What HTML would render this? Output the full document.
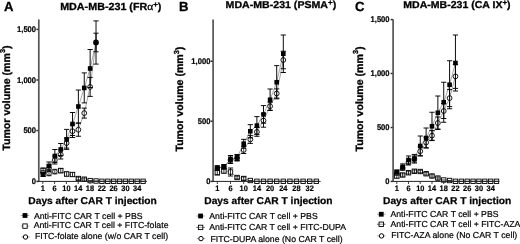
<!DOCTYPE html>
<html lang="en"><head><meta charset="utf-8"><title>Tumor volume after CAR T injection</title>
<style>html,body{margin:0;padding:0;background:#fff;}body{width:520px;height:244px;overflow:hidden;}svg{display:block;}text{white-space:pre;}</style>
</head><body>
<svg width="520" height="244" viewBox="0 0 520 244" font-family='"Liberation Sans", Arial, Helvetica, sans-serif' fill="#000" text-rendering="geometricPrecision">
<rect width="520" height="244" fill="#fff"/>
<line x1="36.40" y1="29.40" x2="38.80" y2="29.40" stroke="#2a2a2a" stroke-width="1.5"/>
<text transform="translate(36.10,32.25) scale(0.93,1)" font-size="8.2" font-weight="bold" stroke="#000" stroke-width="0.2" text-anchor="end">1,500</text>
<line x1="36.40" y1="80.00" x2="38.80" y2="80.00" stroke="#2a2a2a" stroke-width="1.5"/>
<text transform="translate(36.10,82.85) scale(0.93,1)" font-size="8.2" font-weight="bold" stroke="#000" stroke-width="0.2" text-anchor="end">1,000</text>
<line x1="36.40" y1="130.60" x2="38.80" y2="130.60" stroke="#2a2a2a" stroke-width="1.5"/>
<text transform="translate(36.10,133.45) scale(0.93,1)" font-size="8.2" font-weight="bold" stroke="#000" stroke-width="0.2" text-anchor="end">500</text>
<line x1="36.40" y1="181.40" x2="38.80" y2="181.40" stroke="#2a2a2a" stroke-width="1.5"/>
<text transform="translate(36.10,184.25) scale(0.93,1)" font-size="8.2" font-weight="bold" stroke="#000" stroke-width="0.2" text-anchor="end">0</text>
<line x1="42.80" y1="181.40" x2="42.80" y2="184.00" stroke="#444" stroke-width="1"/>
<text transform="translate(42.80,191.2) scale(0.94,1)" font-size="7.9" font-weight="bold" stroke="#000" stroke-width="0.2" text-anchor="middle">1</text>
<line x1="54.60" y1="181.40" x2="54.60" y2="184.00" stroke="#444" stroke-width="1"/>
<text transform="translate(54.60,191.2) scale(0.94,1)" font-size="7.9" font-weight="bold" stroke="#000" stroke-width="0.2" text-anchor="middle">6</text>
<line x1="66.40" y1="181.40" x2="66.40" y2="184.00" stroke="#444" stroke-width="1"/>
<text transform="translate(66.40,191.2) scale(0.94,1)" font-size="7.9" font-weight="bold" stroke="#000" stroke-width="0.2" text-anchor="middle">10</text>
<line x1="78.20" y1="181.40" x2="78.20" y2="184.00" stroke="#444" stroke-width="1"/>
<text transform="translate(78.20,191.2) scale(0.94,1)" font-size="7.9" font-weight="bold" stroke="#000" stroke-width="0.2" text-anchor="middle">14</text>
<line x1="90.00" y1="181.40" x2="90.00" y2="184.00" stroke="#444" stroke-width="1"/>
<text transform="translate(90.00,191.2) scale(0.94,1)" font-size="7.9" font-weight="bold" stroke="#000" stroke-width="0.2" text-anchor="middle">18</text>
<line x1="101.80" y1="181.40" x2="101.80" y2="184.00" stroke="#444" stroke-width="1"/>
<text transform="translate(101.80,191.2) scale(0.94,1)" font-size="7.9" font-weight="bold" stroke="#000" stroke-width="0.2" text-anchor="middle">22</text>
<line x1="113.60" y1="181.40" x2="113.60" y2="184.00" stroke="#444" stroke-width="1"/>
<text transform="translate(113.60,191.2) scale(0.94,1)" font-size="7.9" font-weight="bold" stroke="#000" stroke-width="0.2" text-anchor="middle">26</text>
<line x1="125.40" y1="181.40" x2="125.40" y2="184.00" stroke="#444" stroke-width="1"/>
<text transform="translate(125.40,191.2) scale(0.94,1)" font-size="7.9" font-weight="bold" stroke="#000" stroke-width="0.2" text-anchor="middle">30</text>
<line x1="137.20" y1="181.40" x2="137.20" y2="184.00" stroke="#444" stroke-width="1"/>
<text transform="translate(137.20,191.2) scale(0.94,1)" font-size="7.9" font-weight="bold" stroke="#000" stroke-width="0.2" text-anchor="middle">34</text>
<text x="3.9" y="11.1" font-size="13.1" font-weight="bold" stroke="#000" stroke-width="0.3" text-anchor="start">A</text>
<text x="60.2" y="9.6" font-size="10.3" font-weight="bold" stroke="#000" stroke-width="0.3" textLength="101.2" lengthAdjust="spacingAndGlyphs">MDA-MB-231 (FR<tspan font-family='"Liberation Serif","DejaVu Serif",serif' font-weight="normal" font-size="11">α</tspan><tspan font-size="7.5" dy="-2.8" stroke-width="0.4">+</tspan><tspan dy="2.8">)</tspan></text>
<text transform="translate(9.8,98.15) rotate(-90)" font-size="10.6" font-weight="bold" stroke="#000" stroke-width="0.3" text-anchor="middle" textLength="105.3" lengthAdjust="spacingAndGlyphs">Tumor volume (mm<tspan font-size="7.3" dy="-4.5">3</tspan><tspan dy="4.5">)</tspan></text>
<text x="28.3" y="203.9" font-size="10.0" font-weight="bold" stroke="#000" stroke-width="0.25" text-anchor="start" textLength="128.5" lengthAdjust="spacingAndGlyphs">Days after CAR T injection</text>
<polyline points="43.10,170.50 48.98,173.50 54.86,171.60 60.74,170.60 66.62,174.00 72.50,174.50 78.38,178.50 84.26,179.20 90.14,180.60 96.02,181.00 101.90,181.30 107.78,181.30 113.66,181.30 119.54,181.30 125.42,181.30 131.30,181.30 137.18,181.30 143.06,181.30" fill="none" stroke="#000" stroke-width="0.35"/>
<line x1="43.10" y1="168.00" x2="43.10" y2="173.00" stroke="#000" stroke-width="0.95"/>
<line x1="40.50" y1="168.00" x2="45.70" y2="168.00" stroke="#000" stroke-width="0.95"/>
<line x1="40.50" y1="173.00" x2="45.70" y2="173.00" stroke="#000" stroke-width="0.95"/>
<line x1="48.98" y1="171.30" x2="48.98" y2="175.70" stroke="#000" stroke-width="0.95"/>
<line x1="46.38" y1="171.30" x2="51.58" y2="171.30" stroke="#000" stroke-width="0.95"/>
<line x1="46.38" y1="175.70" x2="51.58" y2="175.70" stroke="#000" stroke-width="0.95"/>
<line x1="54.86" y1="169.40" x2="54.86" y2="173.80" stroke="#000" stroke-width="0.95"/>
<line x1="52.26" y1="169.40" x2="57.46" y2="169.40" stroke="#000" stroke-width="0.95"/>
<line x1="52.26" y1="173.80" x2="57.46" y2="173.80" stroke="#000" stroke-width="0.95"/>
<line x1="60.74" y1="168.40" x2="60.74" y2="172.80" stroke="#000" stroke-width="0.95"/>
<line x1="58.14" y1="168.40" x2="63.34" y2="168.40" stroke="#000" stroke-width="0.95"/>
<line x1="58.14" y1="172.80" x2="63.34" y2="172.80" stroke="#000" stroke-width="0.95"/>
<line x1="66.62" y1="172.00" x2="66.62" y2="176.00" stroke="#000" stroke-width="0.95"/>
<line x1="64.02" y1="172.00" x2="69.22" y2="172.00" stroke="#000" stroke-width="0.95"/>
<line x1="64.02" y1="176.00" x2="69.22" y2="176.00" stroke="#000" stroke-width="0.95"/>
<line x1="72.50" y1="172.50" x2="72.50" y2="176.50" stroke="#000" stroke-width="0.95"/>
<line x1="69.90" y1="172.50" x2="75.10" y2="172.50" stroke="#000" stroke-width="0.95"/>
<line x1="69.90" y1="176.50" x2="75.10" y2="176.50" stroke="#000" stroke-width="0.95"/>
<line x1="78.38" y1="177.30" x2="78.38" y2="179.70" stroke="#000" stroke-width="0.95"/>
<line x1="75.78" y1="177.30" x2="80.98" y2="177.30" stroke="#000" stroke-width="0.95"/>
<line x1="75.78" y1="179.70" x2="80.98" y2="179.70" stroke="#000" stroke-width="0.95"/>
<line x1="84.26" y1="178.20" x2="84.26" y2="180.20" stroke="#000" stroke-width="0.95"/>
<line x1="81.66" y1="178.20" x2="86.86" y2="178.20" stroke="#000" stroke-width="0.95"/>
<line x1="81.66" y1="180.20" x2="86.86" y2="180.20" stroke="#000" stroke-width="0.95"/>
<rect x="40.90" y="168.30" width="4.4" height="4.4" fill="#fff" stroke="#000" stroke-width="0.9"/>
<circle cx="48.98" cy="173.50" r="2.3" fill="#fff" stroke="#000" stroke-width="0.9"/>
<circle cx="54.86" cy="171.60" r="2.3" fill="#fff" stroke="#000" stroke-width="0.9"/>
<rect x="58.54" y="168.40" width="4.4" height="4.4" fill="#fff" stroke="#000" stroke-width="0.9"/>
<rect x="64.42" y="171.80" width="4.4" height="4.4" fill="#fff" stroke="#000" stroke-width="0.9"/>
<rect x="70.30" y="172.30" width="4.4" height="4.4" fill="#fff" stroke="#000" stroke-width="0.9"/>
<rect x="76.18" y="176.30" width="4.4" height="4.4" fill="#fff" stroke="#000" stroke-width="0.9"/>
<rect x="82.06" y="177.00" width="4.4" height="4.4" fill="#fff" stroke="#000" stroke-width="0.9"/>
<rect x="87.94" y="178.40" width="4.4" height="4.4" fill="#fff" stroke="#000" stroke-width="0.9"/>
<rect x="93.82" y="178.80" width="4.4" height="4.4" fill="#fff" stroke="#000" stroke-width="0.9"/>
<rect x="99.70" y="179.10" width="4.4" height="4.4" fill="#fff" stroke="#000" stroke-width="0.9"/>
<rect x="105.58" y="179.10" width="4.4" height="4.4" fill="#fff" stroke="#000" stroke-width="0.9"/>
<rect x="111.46" y="179.10" width="4.4" height="4.4" fill="#fff" stroke="#000" stroke-width="0.9"/>
<rect x="117.34" y="179.10" width="4.4" height="4.4" fill="#fff" stroke="#000" stroke-width="0.9"/>
<rect x="123.22" y="179.10" width="4.4" height="4.4" fill="#fff" stroke="#000" stroke-width="0.9"/>
<rect x="129.10" y="179.10" width="4.4" height="4.4" fill="#fff" stroke="#000" stroke-width="0.9"/>
<rect x="134.98" y="179.10" width="4.4" height="4.4" fill="#fff" stroke="#000" stroke-width="0.9"/>
<rect x="140.86" y="179.10" width="4.4" height="4.4" fill="#fff" stroke="#000" stroke-width="0.9"/>
<line x1="43.10" y1="168.30" x2="43.10" y2="172.70" stroke="#000" stroke-width="0.8"/>
<line x1="48.98" y1="171.30" x2="48.98" y2="175.70" stroke="#000" stroke-width="0.8"/>
<line x1="54.86" y1="169.40" x2="54.86" y2="173.80" stroke="#000" stroke-width="0.8"/>
<line x1="60.74" y1="168.40" x2="60.74" y2="172.80" stroke="#000" stroke-width="0.8"/>
<line x1="66.62" y1="171.80" x2="66.62" y2="176.20" stroke="#000" stroke-width="0.8"/>
<line x1="72.50" y1="172.30" x2="72.50" y2="176.70" stroke="#000" stroke-width="0.8"/>
<line x1="78.38" y1="176.30" x2="78.38" y2="180.70" stroke="#000" stroke-width="0.8"/>
<line x1="76.18" y1="177.30" x2="80.58" y2="177.30" stroke="#000" stroke-width="0.6"/>
<line x1="76.18" y1="179.70" x2="80.58" y2="179.70" stroke="#000" stroke-width="0.6"/>
<line x1="84.26" y1="177.00" x2="84.26" y2="181.40" stroke="#000" stroke-width="0.8"/>
<line x1="82.06" y1="178.20" x2="86.46" y2="178.20" stroke="#000" stroke-width="0.6"/>
<line x1="82.06" y1="180.20" x2="86.46" y2="180.20" stroke="#000" stroke-width="0.6"/>
<line x1="88.04" y1="180.60" x2="92.24" y2="180.60" stroke="#000" stroke-width="0.8"/>
<line x1="93.92" y1="181.00" x2="98.12" y2="181.00" stroke="#000" stroke-width="0.8"/>
<line x1="99.80" y1="181.30" x2="104.00" y2="181.30" stroke="#000" stroke-width="0.8"/>
<line x1="105.68" y1="181.30" x2="109.88" y2="181.30" stroke="#000" stroke-width="0.8"/>
<line x1="111.56" y1="181.30" x2="115.76" y2="181.30" stroke="#000" stroke-width="0.8"/>
<line x1="117.44" y1="181.30" x2="121.64" y2="181.30" stroke="#000" stroke-width="0.8"/>
<line x1="123.32" y1="181.30" x2="127.52" y2="181.30" stroke="#000" stroke-width="0.8"/>
<line x1="129.20" y1="181.30" x2="133.40" y2="181.30" stroke="#000" stroke-width="0.8"/>
<line x1="135.08" y1="181.30" x2="139.28" y2="181.30" stroke="#000" stroke-width="0.8"/>
<line x1="140.96" y1="181.30" x2="145.16" y2="181.30" stroke="#000" stroke-width="0.8"/>
<line x1="38.80" y1="19.40" x2="38.80" y2="181.90" stroke="#555" stroke-width="1.7"/>
<line x1="38.10" y1="181.40" x2="146.90" y2="181.40" stroke="#222" stroke-width="1.0"/>
<polyline points="43.10,173.00 48.98,168.00 54.86,160.00 60.74,154.50 66.62,143.10 72.50,131.20 78.38,129.75 84.26,113.10 90.14,86.90 96.02,42.50" fill="none" stroke="#000" stroke-width="0.35"/>
<polyline points="43.10,174.50 48.98,166.00 54.86,156.00 60.74,149.50 66.62,139.40 72.50,124.00 78.38,106.50 84.26,87.90 90.14,68.50 96.02,42.50" fill="none" stroke="#000" stroke-width="0.35"/>
<line x1="43.10" y1="171.00" x2="43.10" y2="175.00" stroke="#000" stroke-width="0.95"/>
<line x1="40.50" y1="171.00" x2="45.70" y2="171.00" stroke="#000" stroke-width="0.95"/>
<line x1="40.50" y1="175.00" x2="45.70" y2="175.00" stroke="#000" stroke-width="0.95"/>
<line x1="48.98" y1="165.00" x2="48.98" y2="171.00" stroke="#000" stroke-width="0.95"/>
<line x1="46.38" y1="165.00" x2="51.58" y2="165.00" stroke="#000" stroke-width="0.95"/>
<line x1="46.38" y1="171.00" x2="51.58" y2="171.00" stroke="#000" stroke-width="0.95"/>
<line x1="54.86" y1="156.00" x2="54.86" y2="164.00" stroke="#000" stroke-width="0.95"/>
<line x1="52.26" y1="156.00" x2="57.46" y2="156.00" stroke="#000" stroke-width="0.95"/>
<line x1="52.26" y1="164.00" x2="57.46" y2="164.00" stroke="#000" stroke-width="0.95"/>
<line x1="60.74" y1="150.00" x2="60.74" y2="159.00" stroke="#000" stroke-width="0.95"/>
<line x1="58.14" y1="150.00" x2="63.34" y2="150.00" stroke="#000" stroke-width="0.95"/>
<line x1="58.14" y1="159.00" x2="63.34" y2="159.00" stroke="#000" stroke-width="0.95"/>
<line x1="66.62" y1="138.10" x2="66.62" y2="148.10" stroke="#000" stroke-width="0.95"/>
<line x1="64.02" y1="138.10" x2="69.22" y2="138.10" stroke="#000" stroke-width="0.95"/>
<line x1="64.02" y1="148.10" x2="69.22" y2="148.10" stroke="#000" stroke-width="0.95"/>
<line x1="72.50" y1="124.90" x2="72.50" y2="137.50" stroke="#000" stroke-width="0.95"/>
<line x1="69.90" y1="124.90" x2="75.10" y2="124.90" stroke="#000" stroke-width="0.95"/>
<line x1="69.90" y1="137.50" x2="75.10" y2="137.50" stroke="#000" stroke-width="0.95"/>
<line x1="78.38" y1="123.25" x2="78.38" y2="136.25" stroke="#000" stroke-width="0.95"/>
<line x1="75.78" y1="123.25" x2="80.98" y2="123.25" stroke="#000" stroke-width="0.95"/>
<line x1="75.78" y1="136.25" x2="80.98" y2="136.25" stroke="#000" stroke-width="0.95"/>
<line x1="84.26" y1="108.10" x2="84.26" y2="118.10" stroke="#000" stroke-width="0.95"/>
<line x1="81.66" y1="108.10" x2="86.86" y2="108.10" stroke="#000" stroke-width="0.95"/>
<line x1="81.66" y1="118.10" x2="86.86" y2="118.10" stroke="#000" stroke-width="0.95"/>
<line x1="90.14" y1="77.40" x2="90.14" y2="96.40" stroke="#000" stroke-width="0.95"/>
<line x1="87.54" y1="77.40" x2="92.74" y2="77.40" stroke="#000" stroke-width="0.95"/>
<line x1="87.54" y1="96.40" x2="92.74" y2="96.40" stroke="#000" stroke-width="0.95"/>
<line x1="96.02" y1="33.20" x2="96.02" y2="51.80" stroke="#000" stroke-width="0.95"/>
<line x1="93.42" y1="33.20" x2="98.62" y2="33.20" stroke="#000" stroke-width="0.95"/>
<line x1="93.42" y1="51.80" x2="98.62" y2="51.80" stroke="#000" stroke-width="0.95"/>
<circle cx="43.10" cy="173.00" r="2.4" fill="#fff" stroke="#000" stroke-width="0.9"/>
<circle cx="48.98" cy="168.00" r="2.4" fill="#fff" stroke="#000" stroke-width="0.9"/>
<circle cx="54.86" cy="160.00" r="2.4" fill="#fff" stroke="#000" stroke-width="0.9"/>
<circle cx="60.74" cy="154.50" r="2.4" fill="#fff" stroke="#000" stroke-width="0.9"/>
<circle cx="66.62" cy="143.10" r="2.4" fill="#fff" stroke="#000" stroke-width="0.9"/>
<circle cx="72.50" cy="131.20" r="2.4" fill="#fff" stroke="#000" stroke-width="0.9"/>
<circle cx="78.38" cy="129.75" r="2.4" fill="#fff" stroke="#000" stroke-width="0.9"/>
<circle cx="84.26" cy="113.10" r="2.4" fill="#fff" stroke="#000" stroke-width="0.9"/>
<circle cx="90.14" cy="86.90" r="2.4" fill="#fff" stroke="#000" stroke-width="0.9"/>
<line x1="43.10" y1="170.60" x2="43.10" y2="175.40" stroke="#000" stroke-width="0.7"/>
<line x1="48.98" y1="165.60" x2="48.98" y2="170.40" stroke="#000" stroke-width="0.7"/>
<line x1="54.86" y1="157.60" x2="54.86" y2="162.40" stroke="#000" stroke-width="0.7"/>
<line x1="60.74" y1="152.10" x2="60.74" y2="156.90" stroke="#000" stroke-width="0.7"/>
<line x1="66.62" y1="140.70" x2="66.62" y2="145.50" stroke="#000" stroke-width="0.7"/>
<line x1="72.50" y1="128.80" x2="72.50" y2="133.60" stroke="#000" stroke-width="0.7"/>
<line x1="78.38" y1="127.35" x2="78.38" y2="132.15" stroke="#000" stroke-width="0.7"/>
<line x1="84.26" y1="110.70" x2="84.26" y2="115.50" stroke="#000" stroke-width="0.7"/>
<line x1="90.14" y1="84.50" x2="90.14" y2="89.30" stroke="#000" stroke-width="0.7"/>
<line x1="43.10" y1="172.50" x2="43.10" y2="176.50" stroke="#000" stroke-width="0.95"/>
<line x1="40.50" y1="172.50" x2="45.70" y2="172.50" stroke="#000" stroke-width="0.95"/>
<line x1="40.50" y1="176.50" x2="45.70" y2="176.50" stroke="#000" stroke-width="0.95"/>
<line x1="48.98" y1="162.00" x2="48.98" y2="170.00" stroke="#000" stroke-width="0.95"/>
<line x1="46.38" y1="162.00" x2="51.58" y2="162.00" stroke="#000" stroke-width="0.95"/>
<line x1="46.38" y1="170.00" x2="51.58" y2="170.00" stroke="#000" stroke-width="0.95"/>
<line x1="54.86" y1="149.50" x2="54.86" y2="162.50" stroke="#000" stroke-width="0.95"/>
<line x1="52.26" y1="149.50" x2="57.46" y2="149.50" stroke="#000" stroke-width="0.95"/>
<line x1="52.26" y1="162.50" x2="57.46" y2="162.50" stroke="#000" stroke-width="0.95"/>
<line x1="60.74" y1="143.50" x2="60.74" y2="155.50" stroke="#000" stroke-width="0.95"/>
<line x1="58.14" y1="143.50" x2="63.34" y2="143.50" stroke="#000" stroke-width="0.95"/>
<line x1="58.14" y1="155.50" x2="63.34" y2="155.50" stroke="#000" stroke-width="0.95"/>
<line x1="66.62" y1="129.40" x2="66.62" y2="149.40" stroke="#000" stroke-width="0.95"/>
<line x1="64.02" y1="129.40" x2="69.22" y2="129.40" stroke="#000" stroke-width="0.95"/>
<line x1="64.02" y1="149.40" x2="69.22" y2="149.40" stroke="#000" stroke-width="0.95"/>
<line x1="72.50" y1="112.50" x2="72.50" y2="135.50" stroke="#000" stroke-width="0.95"/>
<line x1="69.90" y1="112.50" x2="75.10" y2="112.50" stroke="#000" stroke-width="0.95"/>
<line x1="69.90" y1="135.50" x2="75.10" y2="135.50" stroke="#000" stroke-width="0.95"/>
<line x1="78.38" y1="90.00" x2="78.38" y2="123.00" stroke="#000" stroke-width="0.95"/>
<line x1="75.78" y1="90.00" x2="80.98" y2="90.00" stroke="#000" stroke-width="0.95"/>
<line x1="75.78" y1="123.00" x2="80.98" y2="123.00" stroke="#000" stroke-width="0.95"/>
<line x1="84.26" y1="72.90" x2="84.26" y2="102.90" stroke="#000" stroke-width="0.95"/>
<line x1="81.66" y1="72.90" x2="86.86" y2="72.90" stroke="#000" stroke-width="0.95"/>
<line x1="81.66" y1="102.90" x2="86.86" y2="102.90" stroke="#000" stroke-width="0.95"/>
<line x1="90.14" y1="49.50" x2="90.14" y2="87.50" stroke="#000" stroke-width="0.95"/>
<line x1="87.54" y1="49.50" x2="92.74" y2="49.50" stroke="#000" stroke-width="0.95"/>
<line x1="87.54" y1="87.50" x2="92.74" y2="87.50" stroke="#000" stroke-width="0.95"/>
<line x1="96.02" y1="20.90" x2="96.02" y2="64.10" stroke="#000" stroke-width="0.95"/>
<line x1="93.42" y1="20.90" x2="98.62" y2="20.90" stroke="#000" stroke-width="0.95"/>
<line x1="93.42" y1="64.10" x2="98.62" y2="64.10" stroke="#000" stroke-width="0.95"/>
<rect x="40.80" y="172.20" width="4.6" height="4.6" fill="#000"/>
<rect x="46.68" y="163.70" width="4.6" height="4.6" fill="#000"/>
<rect x="52.56" y="153.70" width="4.6" height="4.6" fill="#000"/>
<rect x="58.44" y="147.20" width="4.6" height="4.6" fill="#000"/>
<rect x="64.32" y="137.10" width="4.6" height="4.6" fill="#000"/>
<rect x="70.20" y="121.70" width="4.6" height="4.6" fill="#000"/>
<rect x="76.08" y="104.20" width="4.6" height="4.6" fill="#000"/>
<rect x="81.96" y="85.60" width="4.6" height="4.6" fill="#000"/>
<rect x="87.84" y="66.20" width="4.6" height="4.6" fill="#000"/>
<circle cx="96.00" cy="42.50" r="2.9" fill="#000"/>
<line x1="20.80" y1="215.50" x2="29.20" y2="215.50" stroke="#333" stroke-width="0.45"/>
<rect x="22.60" y="213.10" width="4.8" height="4.8" fill="#000"/>
<text x="33.9" y="218.5" font-size="8.7" text-anchor="start" textLength="108.7" lengthAdjust="spacingAndGlyphs" stroke="#000" stroke-width="0.2">Anti-FITC CAR T cell + PBS</text>
<line x1="20.80" y1="226.10" x2="29.20" y2="226.10" stroke="#333" stroke-width="0.45"/>
<rect x="22.80" y="223.90" width="4.4" height="4.4" fill="#fff" stroke="#000" stroke-width="0.9"/>
<text x="33.699999999999996" y="228.2" font-size="8.7" text-anchor="start" textLength="134.8" lengthAdjust="spacingAndGlyphs" stroke="#000" stroke-width="0.2">Anti-FITC CAR T cell + FITC-folate</text>
<line x1="21.30" y1="237.00" x2="29.70" y2="237.00" stroke="#333" stroke-width="0.45"/>
<circle cx="25.50" cy="237.00" r="2.2" fill="#fff" stroke="#000" stroke-width="1.0"/>
<text x="34.9" y="239.3" font-size="8.7" text-anchor="start" textLength="133.2" lengthAdjust="spacingAndGlyphs" stroke="#000" stroke-width="0.2">FITC-folate alone (w/o CAR T cell)</text>
<line x1="210.70" y1="61.25" x2="213.10" y2="61.25" stroke="#2a2a2a" stroke-width="1.5"/>
<text transform="translate(210.40,64.10) scale(0.93,1)" font-size="8.2" font-weight="bold" stroke="#000" stroke-width="0.2" text-anchor="end">1,000</text>
<line x1="210.70" y1="121.25" x2="213.10" y2="121.25" stroke="#2a2a2a" stroke-width="1.5"/>
<text transform="translate(210.40,124.10) scale(0.93,1)" font-size="8.2" font-weight="bold" stroke="#000" stroke-width="0.2" text-anchor="end">500</text>
<line x1="210.70" y1="181.40" x2="213.10" y2="181.40" stroke="#2a2a2a" stroke-width="1.5"/>
<text transform="translate(210.40,184.25) scale(0.93,1)" font-size="8.2" font-weight="bold" stroke="#000" stroke-width="0.2" text-anchor="end">0</text>
<line x1="217.30" y1="181.40" x2="217.30" y2="184.00" stroke="#444" stroke-width="1"/>
<text transform="translate(217.30,191.2) scale(0.94,1)" font-size="7.9" font-weight="bold" stroke="#000" stroke-width="0.2" text-anchor="middle">1</text>
<line x1="230.50" y1="181.40" x2="230.50" y2="184.00" stroke="#444" stroke-width="1"/>
<text transform="translate(230.50,191.2) scale(0.94,1)" font-size="7.9" font-weight="bold" stroke="#000" stroke-width="0.2" text-anchor="middle">6</text>
<line x1="243.70" y1="181.40" x2="243.70" y2="184.00" stroke="#444" stroke-width="1"/>
<text transform="translate(243.70,191.2) scale(0.94,1)" font-size="7.9" font-weight="bold" stroke="#000" stroke-width="0.2" text-anchor="middle">10</text>
<line x1="256.90" y1="181.40" x2="256.90" y2="184.00" stroke="#444" stroke-width="1"/>
<text transform="translate(256.90,191.2) scale(0.94,1)" font-size="7.9" font-weight="bold" stroke="#000" stroke-width="0.2" text-anchor="middle">14</text>
<line x1="270.10" y1="181.40" x2="270.10" y2="184.00" stroke="#444" stroke-width="1"/>
<text transform="translate(270.10,191.2) scale(0.94,1)" font-size="7.9" font-weight="bold" stroke="#000" stroke-width="0.2" text-anchor="middle">20</text>
<line x1="283.30" y1="181.40" x2="283.30" y2="184.00" stroke="#444" stroke-width="1"/>
<text transform="translate(283.30,191.2) scale(0.94,1)" font-size="7.9" font-weight="bold" stroke="#000" stroke-width="0.2" text-anchor="middle">24</text>
<line x1="296.50" y1="181.40" x2="296.50" y2="184.00" stroke="#444" stroke-width="1"/>
<text transform="translate(296.50,191.2) scale(0.94,1)" font-size="7.9" font-weight="bold" stroke="#000" stroke-width="0.2" text-anchor="middle">28</text>
<line x1="309.70" y1="181.40" x2="309.70" y2="184.00" stroke="#444" stroke-width="1"/>
<text transform="translate(309.70,191.2) scale(0.94,1)" font-size="7.9" font-weight="bold" stroke="#000" stroke-width="0.2" text-anchor="middle">32</text>
<text x="179.10000000000002" y="11.1" font-size="13.1" font-weight="bold" stroke="#000" stroke-width="0.3" text-anchor="start">B</text>
<text x="225.6" y="8.2" font-size="10" font-weight="bold" stroke="#000" stroke-width="0.3" textLength="110.6" lengthAdjust="spacingAndGlyphs">MDA-MB-231 (PSMA<tspan font-size="7.5" dy="-3.5">+</tspan><tspan dy="3.5">)</tspan></text>
<text transform="translate(183.2,99.15) rotate(-90)" font-size="10.6" font-weight="bold" stroke="#000" stroke-width="0.3" text-anchor="middle" textLength="104.8" lengthAdjust="spacingAndGlyphs">Tumor volume (mm<tspan font-size="7.3" dy="-4.5">3</tspan><tspan dy="4.5">)</tspan></text>
<text x="204.3" y="203.9" font-size="10.0" font-weight="bold" stroke="#000" stroke-width="0.25" text-anchor="start" textLength="128.3" lengthAdjust="spacingAndGlyphs">Days after CAR T injection</text>
<polyline points="217.30,172.50 223.90,171.00 230.50,172.00 237.10,177.50 243.70,178.50 250.30,180.50 256.90,181.30 263.50,181.30 270.10,181.30 276.70,181.30 283.30,181.30 289.90,181.30 296.50,181.30 303.10,181.30 309.70,181.30 316.30,181.30" fill="none" stroke="#000" stroke-width="0.35"/>
<line x1="217.30" y1="170.00" x2="217.30" y2="175.00" stroke="#000" stroke-width="0.95"/>
<line x1="214.70" y1="170.00" x2="219.90" y2="170.00" stroke="#000" stroke-width="0.95"/>
<line x1="214.70" y1="175.00" x2="219.90" y2="175.00" stroke="#000" stroke-width="0.95"/>
<line x1="223.90" y1="169.00" x2="223.90" y2="173.00" stroke="#000" stroke-width="0.95"/>
<line x1="221.30" y1="169.00" x2="226.50" y2="169.00" stroke="#000" stroke-width="0.95"/>
<line x1="221.30" y1="173.00" x2="226.50" y2="173.00" stroke="#000" stroke-width="0.95"/>
<line x1="230.50" y1="168.00" x2="230.50" y2="176.00" stroke="#000" stroke-width="0.95"/>
<line x1="227.90" y1="168.00" x2="233.10" y2="168.00" stroke="#000" stroke-width="0.95"/>
<line x1="227.90" y1="176.00" x2="233.10" y2="176.00" stroke="#000" stroke-width="0.95"/>
<line x1="237.10" y1="176.30" x2="237.10" y2="178.70" stroke="#000" stroke-width="0.95"/>
<line x1="234.50" y1="176.30" x2="239.70" y2="176.30" stroke="#000" stroke-width="0.95"/>
<line x1="234.50" y1="178.70" x2="239.70" y2="178.70" stroke="#000" stroke-width="0.95"/>
<line x1="243.70" y1="177.00" x2="243.70" y2="180.00" stroke="#000" stroke-width="0.95"/>
<line x1="241.10" y1="177.00" x2="246.30" y2="177.00" stroke="#000" stroke-width="0.95"/>
<line x1="241.10" y1="180.00" x2="246.30" y2="180.00" stroke="#000" stroke-width="0.95"/>
<rect x="215.10" y="170.30" width="4.4" height="4.4" fill="#fff" stroke="#000" stroke-width="0.9"/>
<rect x="221.70" y="168.80" width="4.4" height="4.4" fill="#fff" stroke="#000" stroke-width="0.9"/>
<rect x="228.30" y="169.80" width="4.4" height="4.4" fill="#fff" stroke="#000" stroke-width="0.9"/>
<rect x="234.90" y="175.30" width="4.4" height="4.4" fill="#fff" stroke="#000" stroke-width="0.9"/>
<rect x="241.50" y="176.30" width="4.4" height="4.4" fill="#fff" stroke="#000" stroke-width="0.9"/>
<rect x="248.10" y="178.30" width="4.4" height="4.4" fill="#fff" stroke="#000" stroke-width="0.9"/>
<rect x="254.70" y="179.10" width="4.4" height="4.4" fill="#fff" stroke="#000" stroke-width="0.9"/>
<rect x="261.30" y="179.10" width="4.4" height="4.4" fill="#fff" stroke="#000" stroke-width="0.9"/>
<rect x="267.90" y="179.10" width="4.4" height="4.4" fill="#fff" stroke="#000" stroke-width="0.9"/>
<rect x="274.50" y="179.10" width="4.4" height="4.4" fill="#fff" stroke="#000" stroke-width="0.9"/>
<rect x="281.10" y="179.10" width="4.4" height="4.4" fill="#fff" stroke="#000" stroke-width="0.9"/>
<rect x="287.70" y="179.10" width="4.4" height="4.4" fill="#fff" stroke="#000" stroke-width="0.9"/>
<rect x="294.30" y="179.10" width="4.4" height="4.4" fill="#fff" stroke="#000" stroke-width="0.9"/>
<rect x="300.90" y="179.10" width="4.4" height="4.4" fill="#fff" stroke="#000" stroke-width="0.9"/>
<rect x="307.50" y="179.10" width="4.4" height="4.4" fill="#fff" stroke="#000" stroke-width="0.9"/>
<rect x="314.10" y="179.10" width="4.4" height="4.4" fill="#fff" stroke="#000" stroke-width="0.9"/>
<line x1="217.30" y1="170.30" x2="217.30" y2="174.70" stroke="#000" stroke-width="0.8"/>
<line x1="223.90" y1="168.80" x2="223.90" y2="173.20" stroke="#000" stroke-width="0.8"/>
<line x1="230.50" y1="169.80" x2="230.50" y2="174.20" stroke="#000" stroke-width="0.8"/>
<line x1="237.10" y1="175.30" x2="237.10" y2="179.70" stroke="#000" stroke-width="0.8"/>
<line x1="234.90" y1="176.30" x2="239.30" y2="176.30" stroke="#000" stroke-width="0.6"/>
<line x1="234.90" y1="178.70" x2="239.30" y2="178.70" stroke="#000" stroke-width="0.6"/>
<line x1="243.70" y1="176.30" x2="243.70" y2="180.70" stroke="#000" stroke-width="0.8"/>
<line x1="241.50" y1="177.00" x2="245.90" y2="177.00" stroke="#000" stroke-width="0.6"/>
<line x1="241.50" y1="180.00" x2="245.90" y2="180.00" stroke="#000" stroke-width="0.6"/>
<line x1="248.20" y1="180.50" x2="252.40" y2="180.50" stroke="#000" stroke-width="0.8"/>
<line x1="254.80" y1="181.30" x2="259.00" y2="181.30" stroke="#000" stroke-width="0.8"/>
<line x1="261.40" y1="181.30" x2="265.60" y2="181.30" stroke="#000" stroke-width="0.8"/>
<line x1="268.00" y1="181.30" x2="272.20" y2="181.30" stroke="#000" stroke-width="0.8"/>
<line x1="274.60" y1="181.30" x2="278.80" y2="181.30" stroke="#000" stroke-width="0.8"/>
<line x1="281.20" y1="181.30" x2="285.40" y2="181.30" stroke="#000" stroke-width="0.8"/>
<line x1="287.80" y1="181.30" x2="292.00" y2="181.30" stroke="#000" stroke-width="0.8"/>
<line x1="294.40" y1="181.30" x2="298.60" y2="181.30" stroke="#000" stroke-width="0.8"/>
<line x1="301.00" y1="181.30" x2="305.20" y2="181.30" stroke="#000" stroke-width="0.8"/>
<line x1="307.60" y1="181.30" x2="311.80" y2="181.30" stroke="#000" stroke-width="0.8"/>
<line x1="314.20" y1="181.30" x2="318.40" y2="181.30" stroke="#000" stroke-width="0.8"/>
<line x1="213.10" y1="19.40" x2="213.10" y2="181.90" stroke="#555" stroke-width="1.7"/>
<line x1="212.40" y1="181.40" x2="320.60" y2="181.40" stroke="#222" stroke-width="1.0"/>
<polyline points="217.30,168.00 223.90,167.00 230.50,160.00 237.10,158.00 243.70,150.00 250.30,139.40 256.90,131.90 263.50,120.60 270.10,106.25 276.70,93.50 283.30,60.00" fill="none" stroke="#000" stroke-width="0.35"/>
<polyline points="217.30,168.00 223.90,166.50 230.50,159.50 237.10,157.50 243.70,143.75 250.30,131.25 256.90,125.60 263.50,114.40 270.10,99.75 276.70,82.25 283.30,53.75" fill="none" stroke="#000" stroke-width="0.35"/>
<line x1="217.30" y1="166.00" x2="217.30" y2="170.00" stroke="#000" stroke-width="0.95"/>
<line x1="214.70" y1="166.00" x2="219.90" y2="166.00" stroke="#000" stroke-width="0.95"/>
<line x1="214.70" y1="170.00" x2="219.90" y2="170.00" stroke="#000" stroke-width="0.95"/>
<line x1="223.90" y1="165.00" x2="223.90" y2="169.00" stroke="#000" stroke-width="0.95"/>
<line x1="221.30" y1="165.00" x2="226.50" y2="165.00" stroke="#000" stroke-width="0.95"/>
<line x1="221.30" y1="169.00" x2="226.50" y2="169.00" stroke="#000" stroke-width="0.95"/>
<line x1="230.50" y1="157.00" x2="230.50" y2="163.00" stroke="#000" stroke-width="0.95"/>
<line x1="227.90" y1="157.00" x2="233.10" y2="157.00" stroke="#000" stroke-width="0.95"/>
<line x1="227.90" y1="163.00" x2="233.10" y2="163.00" stroke="#000" stroke-width="0.95"/>
<line x1="237.10" y1="155.00" x2="237.10" y2="161.00" stroke="#000" stroke-width="0.95"/>
<line x1="234.50" y1="155.00" x2="239.70" y2="155.00" stroke="#000" stroke-width="0.95"/>
<line x1="234.50" y1="161.00" x2="239.70" y2="161.00" stroke="#000" stroke-width="0.95"/>
<line x1="243.70" y1="146.50" x2="243.70" y2="153.50" stroke="#000" stroke-width="0.95"/>
<line x1="241.10" y1="146.50" x2="246.30" y2="146.50" stroke="#000" stroke-width="0.95"/>
<line x1="241.10" y1="153.50" x2="246.30" y2="153.50" stroke="#000" stroke-width="0.95"/>
<line x1="250.30" y1="135.40" x2="250.30" y2="143.40" stroke="#000" stroke-width="0.95"/>
<line x1="247.70" y1="135.40" x2="252.90" y2="135.40" stroke="#000" stroke-width="0.95"/>
<line x1="247.70" y1="143.40" x2="252.90" y2="143.40" stroke="#000" stroke-width="0.95"/>
<line x1="256.90" y1="127.50" x2="256.90" y2="136.30" stroke="#000" stroke-width="0.95"/>
<line x1="254.30" y1="127.50" x2="259.50" y2="127.50" stroke="#000" stroke-width="0.95"/>
<line x1="254.30" y1="136.30" x2="259.50" y2="136.30" stroke="#000" stroke-width="0.95"/>
<line x1="263.50" y1="114.00" x2="263.50" y2="127.20" stroke="#000" stroke-width="0.95"/>
<line x1="260.90" y1="114.00" x2="266.10" y2="114.00" stroke="#000" stroke-width="0.95"/>
<line x1="260.90" y1="127.20" x2="266.10" y2="127.20" stroke="#000" stroke-width="0.95"/>
<line x1="270.10" y1="102.25" x2="270.10" y2="110.25" stroke="#000" stroke-width="0.95"/>
<line x1="267.50" y1="102.25" x2="272.70" y2="102.25" stroke="#000" stroke-width="0.95"/>
<line x1="267.50" y1="110.25" x2="272.70" y2="110.25" stroke="#000" stroke-width="0.95"/>
<line x1="276.70" y1="88.90" x2="276.70" y2="98.10" stroke="#000" stroke-width="0.95"/>
<line x1="274.10" y1="88.90" x2="279.30" y2="88.90" stroke="#000" stroke-width="0.95"/>
<line x1="274.10" y1="98.10" x2="279.30" y2="98.10" stroke="#000" stroke-width="0.95"/>
<line x1="283.30" y1="51.25" x2="283.30" y2="68.75" stroke="#000" stroke-width="0.95"/>
<line x1="280.70" y1="51.25" x2="285.90" y2="51.25" stroke="#000" stroke-width="0.95"/>
<line x1="280.70" y1="68.75" x2="285.90" y2="68.75" stroke="#000" stroke-width="0.95"/>
<circle cx="217.30" cy="168.00" r="2.4" fill="#fff" stroke="#000" stroke-width="0.9"/>
<circle cx="223.90" cy="167.00" r="2.4" fill="#fff" stroke="#000" stroke-width="0.9"/>
<circle cx="230.50" cy="160.00" r="2.4" fill="#fff" stroke="#000" stroke-width="0.9"/>
<circle cx="237.10" cy="158.00" r="2.4" fill="#fff" stroke="#000" stroke-width="0.9"/>
<circle cx="243.70" cy="150.00" r="2.4" fill="#fff" stroke="#000" stroke-width="0.9"/>
<circle cx="250.30" cy="139.40" r="2.4" fill="#fff" stroke="#000" stroke-width="0.9"/>
<circle cx="256.90" cy="131.90" r="2.4" fill="#fff" stroke="#000" stroke-width="0.9"/>
<circle cx="263.50" cy="120.60" r="2.4" fill="#fff" stroke="#000" stroke-width="0.9"/>
<circle cx="270.10" cy="106.25" r="2.4" fill="#fff" stroke="#000" stroke-width="0.9"/>
<circle cx="276.70" cy="93.50" r="2.4" fill="#fff" stroke="#000" stroke-width="0.9"/>
<circle cx="283.30" cy="60.00" r="2.4" fill="#fff" stroke="#000" stroke-width="0.9"/>
<line x1="217.30" y1="165.60" x2="217.30" y2="170.40" stroke="#000" stroke-width="0.7"/>
<line x1="223.90" y1="164.60" x2="223.90" y2="169.40" stroke="#000" stroke-width="0.7"/>
<line x1="230.50" y1="157.60" x2="230.50" y2="162.40" stroke="#000" stroke-width="0.7"/>
<line x1="237.10" y1="155.60" x2="237.10" y2="160.40" stroke="#000" stroke-width="0.7"/>
<line x1="243.70" y1="147.60" x2="243.70" y2="152.40" stroke="#000" stroke-width="0.7"/>
<line x1="250.30" y1="137.00" x2="250.30" y2="141.80" stroke="#000" stroke-width="0.7"/>
<line x1="256.90" y1="129.50" x2="256.90" y2="134.30" stroke="#000" stroke-width="0.7"/>
<line x1="263.50" y1="118.20" x2="263.50" y2="123.00" stroke="#000" stroke-width="0.7"/>
<line x1="270.10" y1="103.85" x2="270.10" y2="108.65" stroke="#000" stroke-width="0.7"/>
<line x1="276.70" y1="91.10" x2="276.70" y2="95.90" stroke="#000" stroke-width="0.7"/>
<line x1="283.30" y1="57.60" x2="283.30" y2="62.40" stroke="#000" stroke-width="0.7"/>
<line x1="217.30" y1="166.00" x2="217.30" y2="170.00" stroke="#000" stroke-width="0.95"/>
<line x1="214.70" y1="166.00" x2="219.90" y2="166.00" stroke="#000" stroke-width="0.95"/>
<line x1="214.70" y1="170.00" x2="219.90" y2="170.00" stroke="#000" stroke-width="0.95"/>
<line x1="223.90" y1="164.50" x2="223.90" y2="168.50" stroke="#000" stroke-width="0.95"/>
<line x1="221.30" y1="164.50" x2="226.50" y2="164.50" stroke="#000" stroke-width="0.95"/>
<line x1="221.30" y1="168.50" x2="226.50" y2="168.50" stroke="#000" stroke-width="0.95"/>
<line x1="230.50" y1="155.50" x2="230.50" y2="163.50" stroke="#000" stroke-width="0.95"/>
<line x1="227.90" y1="155.50" x2="233.10" y2="155.50" stroke="#000" stroke-width="0.95"/>
<line x1="227.90" y1="163.50" x2="233.10" y2="163.50" stroke="#000" stroke-width="0.95"/>
<line x1="237.10" y1="154.50" x2="237.10" y2="160.50" stroke="#000" stroke-width="0.95"/>
<line x1="234.50" y1="154.50" x2="239.70" y2="154.50" stroke="#000" stroke-width="0.95"/>
<line x1="234.50" y1="160.50" x2="239.70" y2="160.50" stroke="#000" stroke-width="0.95"/>
<line x1="243.70" y1="139.35" x2="243.70" y2="148.15" stroke="#000" stroke-width="0.95"/>
<line x1="241.10" y1="139.35" x2="246.30" y2="139.35" stroke="#000" stroke-width="0.95"/>
<line x1="241.10" y1="148.15" x2="246.30" y2="148.15" stroke="#000" stroke-width="0.95"/>
<line x1="250.30" y1="124.65" x2="250.30" y2="137.85" stroke="#000" stroke-width="0.95"/>
<line x1="247.70" y1="124.65" x2="252.90" y2="124.65" stroke="#000" stroke-width="0.95"/>
<line x1="247.70" y1="137.85" x2="252.90" y2="137.85" stroke="#000" stroke-width="0.95"/>
<line x1="256.90" y1="116.60" x2="256.90" y2="134.60" stroke="#000" stroke-width="0.95"/>
<line x1="254.30" y1="116.60" x2="259.50" y2="116.60" stroke="#000" stroke-width="0.95"/>
<line x1="254.30" y1="134.60" x2="259.50" y2="134.60" stroke="#000" stroke-width="0.95"/>
<line x1="263.50" y1="105.60" x2="263.50" y2="123.20" stroke="#000" stroke-width="0.95"/>
<line x1="260.90" y1="105.60" x2="266.10" y2="105.60" stroke="#000" stroke-width="0.95"/>
<line x1="260.90" y1="123.20" x2="266.10" y2="123.20" stroke="#000" stroke-width="0.95"/>
<line x1="270.10" y1="89.00" x2="270.10" y2="110.50" stroke="#000" stroke-width="0.95"/>
<line x1="267.50" y1="89.00" x2="272.70" y2="89.00" stroke="#000" stroke-width="0.95"/>
<line x1="267.50" y1="110.50" x2="272.70" y2="110.50" stroke="#000" stroke-width="0.95"/>
<line x1="276.70" y1="65.65" x2="276.70" y2="98.85" stroke="#000" stroke-width="0.95"/>
<line x1="274.10" y1="65.65" x2="279.30" y2="65.65" stroke="#000" stroke-width="0.95"/>
<line x1="274.10" y1="98.85" x2="279.30" y2="98.85" stroke="#000" stroke-width="0.95"/>
<line x1="283.30" y1="35.00" x2="283.30" y2="72.50" stroke="#000" stroke-width="0.95"/>
<line x1="280.70" y1="35.00" x2="285.90" y2="35.00" stroke="#000" stroke-width="0.95"/>
<line x1="280.70" y1="72.50" x2="285.90" y2="72.50" stroke="#000" stroke-width="0.95"/>
<rect x="215.00" y="165.70" width="4.6" height="4.6" fill="#000"/>
<rect x="221.60" y="164.20" width="4.6" height="4.6" fill="#000"/>
<rect x="228.20" y="157.20" width="4.6" height="4.6" fill="#000"/>
<rect x="234.80" y="155.20" width="4.6" height="4.6" fill="#000"/>
<rect x="241.40" y="141.45" width="4.6" height="4.6" fill="#000"/>
<rect x="248.00" y="128.95" width="4.6" height="4.6" fill="#000"/>
<rect x="254.60" y="123.30" width="4.6" height="4.6" fill="#000"/>
<rect x="261.20" y="112.10" width="4.6" height="4.6" fill="#000"/>
<rect x="267.80" y="97.45" width="4.6" height="4.6" fill="#000"/>
<rect x="274.40" y="79.95" width="4.6" height="4.6" fill="#000"/>
<rect x="281.00" y="51.45" width="4.6" height="4.6" fill="#000"/>
<line x1="196.40" y1="216.00" x2="204.80" y2="216.00" stroke="#333" stroke-width="0.45"/>
<rect x="198.20" y="213.60" width="4.8" height="4.8" fill="#000"/>
<text x="209.3" y="219.4" font-size="8.7" text-anchor="start" textLength="108.4" lengthAdjust="spacingAndGlyphs" stroke="#000" stroke-width="0.2">Anti-FITC CAR T cell + PBS</text>
<line x1="196.40" y1="227.40" x2="204.80" y2="227.40" stroke="#333" stroke-width="0.45"/>
<rect x="198.40" y="225.20" width="4.4" height="4.4" fill="#fff" stroke="#000" stroke-width="0.9"/>
<line x1="196.40" y1="227.40" x2="204.80" y2="227.40" stroke="#333" stroke-width="0.5"/>
<text x="209.3" y="230.4" font-size="8.7" text-anchor="start" textLength="136.7" lengthAdjust="spacingAndGlyphs" stroke="#000" stroke-width="0.2">Anti-FITC CAR T cell + FITC-DUPA</text>
<line x1="196.80" y1="238.60" x2="205.20" y2="238.60" stroke="#333" stroke-width="0.45"/>
<circle cx="201.00" cy="238.60" r="2.2" fill="#fff" stroke="#000" stroke-width="1.0"/>
<text x="210.5" y="241.6" font-size="8.7" text-anchor="start" textLength="132.1" lengthAdjust="spacingAndGlyphs" stroke="#000" stroke-width="0.2">FITC-DUPA alone (No CAR T cell)</text>
<line x1="390.70" y1="19.60" x2="393.10" y2="19.60" stroke="#2a2a2a" stroke-width="1.5"/>
<text transform="translate(389.60,22.45) scale(0.93,1)" font-size="8.2" font-weight="bold" stroke="#000" stroke-width="0.2" text-anchor="end">1,500</text>
<line x1="390.70" y1="73.50" x2="393.10" y2="73.50" stroke="#2a2a2a" stroke-width="1.5"/>
<text transform="translate(389.60,76.35) scale(0.93,1)" font-size="8.2" font-weight="bold" stroke="#000" stroke-width="0.2" text-anchor="end">1,000</text>
<line x1="390.70" y1="127.50" x2="393.10" y2="127.50" stroke="#2a2a2a" stroke-width="1.5"/>
<text transform="translate(389.60,130.35) scale(0.93,1)" font-size="8.2" font-weight="bold" stroke="#000" stroke-width="0.2" text-anchor="end">500</text>
<line x1="390.70" y1="181.40" x2="393.10" y2="181.40" stroke="#2a2a2a" stroke-width="1.5"/>
<text transform="translate(389.60,184.25) scale(0.93,1)" font-size="8.2" font-weight="bold" stroke="#000" stroke-width="0.2" text-anchor="end">0</text>
<line x1="396.80" y1="181.40" x2="396.80" y2="184.00" stroke="#444" stroke-width="1"/>
<text transform="translate(396.80,191.2) scale(0.94,1)" font-size="7.9" font-weight="bold" stroke="#000" stroke-width="0.2" text-anchor="middle">1</text>
<line x1="408.53" y1="181.40" x2="408.53" y2="184.00" stroke="#444" stroke-width="1"/>
<text transform="translate(408.53,191.2) scale(0.94,1)" font-size="7.9" font-weight="bold" stroke="#000" stroke-width="0.2" text-anchor="middle">6</text>
<line x1="420.26" y1="181.40" x2="420.26" y2="184.00" stroke="#444" stroke-width="1"/>
<text transform="translate(420.26,191.2) scale(0.94,1)" font-size="7.9" font-weight="bold" stroke="#000" stroke-width="0.2" text-anchor="middle">10</text>
<line x1="431.99" y1="181.40" x2="431.99" y2="184.00" stroke="#444" stroke-width="1"/>
<text transform="translate(431.99,191.2) scale(0.94,1)" font-size="7.9" font-weight="bold" stroke="#000" stroke-width="0.2" text-anchor="middle">14</text>
<line x1="443.72" y1="181.40" x2="443.72" y2="184.00" stroke="#444" stroke-width="1"/>
<text transform="translate(443.72,191.2) scale(0.94,1)" font-size="7.9" font-weight="bold" stroke="#000" stroke-width="0.2" text-anchor="middle">18</text>
<line x1="455.45" y1="181.40" x2="455.45" y2="184.00" stroke="#444" stroke-width="1"/>
<text transform="translate(455.45,191.2) scale(0.94,1)" font-size="7.9" font-weight="bold" stroke="#000" stroke-width="0.2" text-anchor="middle">22</text>
<line x1="467.18" y1="181.40" x2="467.18" y2="184.00" stroke="#444" stroke-width="1"/>
<text transform="translate(467.18,191.2) scale(0.94,1)" font-size="7.9" font-weight="bold" stroke="#000" stroke-width="0.2" text-anchor="middle">26</text>
<line x1="478.91" y1="181.40" x2="478.91" y2="184.00" stroke="#444" stroke-width="1"/>
<text transform="translate(478.91,191.2) scale(0.94,1)" font-size="7.9" font-weight="bold" stroke="#000" stroke-width="0.2" text-anchor="middle">30</text>
<line x1="490.64" y1="181.40" x2="490.64" y2="184.00" stroke="#444" stroke-width="1"/>
<text transform="translate(490.64,191.2) scale(0.94,1)" font-size="7.9" font-weight="bold" stroke="#000" stroke-width="0.2" text-anchor="middle">34</text>
<text x="354.90000000000003" y="11.1" font-size="13.1" font-weight="bold" stroke="#000" stroke-width="0.3" text-anchor="start">C</text>
<text x="403.3" y="8.4" font-size="10" font-weight="bold" stroke="#000" stroke-width="0.3" textLength="107.3" lengthAdjust="spacingAndGlyphs">MDA-MB-231 (CA IX<tspan font-size="7.5" dy="-3.5">+</tspan><tspan dy="3.5">)</tspan></text>
<text transform="translate(362.6,99.0) rotate(-90)" font-size="10.6" font-weight="bold" stroke="#000" stroke-width="0.3" text-anchor="middle" textLength="105.0" lengthAdjust="spacingAndGlyphs">Tumor volume (mm<tspan font-size="7.3" dy="-4.5">3</tspan><tspan dy="4.5">)</tspan></text>
<text x="383.05" y="203.9" font-size="10.0" font-weight="bold" stroke="#000" stroke-width="0.25" text-anchor="start" textLength="128.20000000000002" lengthAdjust="spacingAndGlyphs">Days after CAR T injection</text>
<polyline points="396.80,176.00 402.67,175.00 408.53,172.75 414.39,171.25 420.26,171.50 426.12,173.75 431.99,176.00 437.86,178.10 443.72,180.00 449.59,180.50 455.45,181.30 461.31,181.30 467.18,181.30 473.05,181.30 478.91,181.30 484.78,181.30 490.64,181.30 496.50,181.30" fill="none" stroke="#000" stroke-width="0.35"/>
<line x1="396.80" y1="174.00" x2="396.80" y2="178.00" stroke="#000" stroke-width="0.95"/>
<line x1="394.20" y1="174.00" x2="399.40" y2="174.00" stroke="#000" stroke-width="0.95"/>
<line x1="394.20" y1="178.00" x2="399.40" y2="178.00" stroke="#000" stroke-width="0.95"/>
<line x1="402.67" y1="173.80" x2="402.67" y2="176.20" stroke="#000" stroke-width="0.95"/>
<line x1="400.06" y1="173.80" x2="405.27" y2="173.80" stroke="#000" stroke-width="0.95"/>
<line x1="400.06" y1="176.20" x2="405.27" y2="176.20" stroke="#000" stroke-width="0.95"/>
<line x1="408.53" y1="171.65" x2="408.53" y2="173.85" stroke="#000" stroke-width="0.95"/>
<line x1="405.93" y1="171.65" x2="411.13" y2="171.65" stroke="#000" stroke-width="0.95"/>
<line x1="405.93" y1="173.85" x2="411.13" y2="173.85" stroke="#000" stroke-width="0.95"/>
<line x1="414.39" y1="170.15" x2="414.39" y2="172.35" stroke="#000" stroke-width="0.95"/>
<line x1="411.79" y1="170.15" x2="417.00" y2="170.15" stroke="#000" stroke-width="0.95"/>
<line x1="411.79" y1="172.35" x2="417.00" y2="172.35" stroke="#000" stroke-width="0.95"/>
<line x1="420.26" y1="170.40" x2="420.26" y2="172.60" stroke="#000" stroke-width="0.95"/>
<line x1="417.66" y1="170.40" x2="422.86" y2="170.40" stroke="#000" stroke-width="0.95"/>
<line x1="417.66" y1="172.60" x2="422.86" y2="172.60" stroke="#000" stroke-width="0.95"/>
<line x1="426.12" y1="172.55" x2="426.12" y2="174.95" stroke="#000" stroke-width="0.95"/>
<line x1="423.52" y1="172.55" x2="428.73" y2="172.55" stroke="#000" stroke-width="0.95"/>
<line x1="423.52" y1="174.95" x2="428.73" y2="174.95" stroke="#000" stroke-width="0.95"/>
<line x1="431.99" y1="174.80" x2="431.99" y2="177.20" stroke="#000" stroke-width="0.95"/>
<line x1="429.39" y1="174.80" x2="434.59" y2="174.80" stroke="#000" stroke-width="0.95"/>
<line x1="429.39" y1="177.20" x2="434.59" y2="177.20" stroke="#000" stroke-width="0.95"/>
<line x1="437.86" y1="177.10" x2="437.86" y2="179.10" stroke="#000" stroke-width="0.95"/>
<line x1="435.25" y1="177.10" x2="440.46" y2="177.10" stroke="#000" stroke-width="0.95"/>
<line x1="435.25" y1="179.10" x2="440.46" y2="179.10" stroke="#000" stroke-width="0.95"/>
<rect x="394.60" y="173.80" width="4.4" height="4.4" fill="#fff" stroke="#000" stroke-width="0.9"/>
<rect x="400.47" y="172.80" width="4.4" height="4.4" fill="#fff" stroke="#000" stroke-width="0.9"/>
<rect x="406.33" y="170.55" width="4.4" height="4.4" fill="#fff" stroke="#000" stroke-width="0.9"/>
<rect x="412.19" y="169.05" width="4.4" height="4.4" fill="#fff" stroke="#000" stroke-width="0.9"/>
<rect x="418.06" y="169.30" width="4.4" height="4.4" fill="#fff" stroke="#000" stroke-width="0.9"/>
<rect x="423.93" y="171.55" width="4.4" height="4.4" fill="#fff" stroke="#000" stroke-width="0.9"/>
<rect x="429.79" y="173.80" width="4.4" height="4.4" fill="#fff" stroke="#000" stroke-width="0.9"/>
<rect x="435.66" y="175.90" width="4.4" height="4.4" fill="#fff" stroke="#000" stroke-width="0.9"/>
<rect x="441.52" y="177.80" width="4.4" height="4.4" fill="#fff" stroke="#000" stroke-width="0.9"/>
<rect x="447.39" y="178.30" width="4.4" height="4.4" fill="#fff" stroke="#000" stroke-width="0.9"/>
<rect x="453.25" y="179.10" width="4.4" height="4.4" fill="#fff" stroke="#000" stroke-width="0.9"/>
<rect x="459.12" y="179.10" width="4.4" height="4.4" fill="#fff" stroke="#000" stroke-width="0.9"/>
<rect x="464.98" y="179.10" width="4.4" height="4.4" fill="#fff" stroke="#000" stroke-width="0.9"/>
<rect x="470.85" y="179.10" width="4.4" height="4.4" fill="#fff" stroke="#000" stroke-width="0.9"/>
<rect x="476.71" y="179.10" width="4.4" height="4.4" fill="#fff" stroke="#000" stroke-width="0.9"/>
<rect x="482.58" y="179.10" width="4.4" height="4.4" fill="#fff" stroke="#000" stroke-width="0.9"/>
<rect x="488.44" y="179.10" width="4.4" height="4.4" fill="#fff" stroke="#000" stroke-width="0.9"/>
<rect x="494.31" y="179.10" width="4.4" height="4.4" fill="#fff" stroke="#000" stroke-width="0.9"/>
<line x1="396.80" y1="173.80" x2="396.80" y2="178.20" stroke="#000" stroke-width="0.8"/>
<line x1="402.67" y1="172.80" x2="402.67" y2="177.20" stroke="#000" stroke-width="0.8"/>
<line x1="400.47" y1="173.80" x2="404.87" y2="173.80" stroke="#000" stroke-width="0.6"/>
<line x1="400.47" y1="176.20" x2="404.87" y2="176.20" stroke="#000" stroke-width="0.6"/>
<line x1="408.53" y1="170.55" x2="408.53" y2="174.95" stroke="#000" stroke-width="0.8"/>
<line x1="406.33" y1="171.65" x2="410.73" y2="171.65" stroke="#000" stroke-width="0.6"/>
<line x1="406.33" y1="173.85" x2="410.73" y2="173.85" stroke="#000" stroke-width="0.6"/>
<line x1="414.39" y1="169.05" x2="414.39" y2="173.45" stroke="#000" stroke-width="0.8"/>
<line x1="412.19" y1="170.15" x2="416.59" y2="170.15" stroke="#000" stroke-width="0.6"/>
<line x1="412.19" y1="172.35" x2="416.59" y2="172.35" stroke="#000" stroke-width="0.6"/>
<line x1="420.26" y1="169.30" x2="420.26" y2="173.70" stroke="#000" stroke-width="0.8"/>
<line x1="418.06" y1="170.40" x2="422.46" y2="170.40" stroke="#000" stroke-width="0.6"/>
<line x1="418.06" y1="172.60" x2="422.46" y2="172.60" stroke="#000" stroke-width="0.6"/>
<line x1="426.12" y1="171.55" x2="426.12" y2="175.95" stroke="#000" stroke-width="0.8"/>
<line x1="423.93" y1="172.55" x2="428.32" y2="172.55" stroke="#000" stroke-width="0.6"/>
<line x1="423.93" y1="174.95" x2="428.32" y2="174.95" stroke="#000" stroke-width="0.6"/>
<line x1="431.99" y1="173.80" x2="431.99" y2="178.20" stroke="#000" stroke-width="0.8"/>
<line x1="429.79" y1="174.80" x2="434.19" y2="174.80" stroke="#000" stroke-width="0.6"/>
<line x1="429.79" y1="177.20" x2="434.19" y2="177.20" stroke="#000" stroke-width="0.6"/>
<line x1="437.86" y1="175.90" x2="437.86" y2="180.30" stroke="#000" stroke-width="0.8"/>
<line x1="435.66" y1="177.10" x2="440.06" y2="177.10" stroke="#000" stroke-width="0.6"/>
<line x1="435.66" y1="179.10" x2="440.06" y2="179.10" stroke="#000" stroke-width="0.6"/>
<line x1="441.62" y1="180.00" x2="445.82" y2="180.00" stroke="#000" stroke-width="0.8"/>
<line x1="447.49" y1="180.50" x2="451.69" y2="180.50" stroke="#000" stroke-width="0.8"/>
<line x1="453.35" y1="181.30" x2="457.55" y2="181.30" stroke="#000" stroke-width="0.8"/>
<line x1="459.21" y1="181.30" x2="463.42" y2="181.30" stroke="#000" stroke-width="0.8"/>
<line x1="465.08" y1="181.30" x2="469.28" y2="181.30" stroke="#000" stroke-width="0.8"/>
<line x1="470.94" y1="181.30" x2="475.15" y2="181.30" stroke="#000" stroke-width="0.8"/>
<line x1="476.81" y1="181.30" x2="481.01" y2="181.30" stroke="#000" stroke-width="0.8"/>
<line x1="482.68" y1="181.30" x2="486.88" y2="181.30" stroke="#000" stroke-width="0.8"/>
<line x1="488.54" y1="181.30" x2="492.74" y2="181.30" stroke="#000" stroke-width="0.8"/>
<line x1="494.40" y1="181.30" x2="498.61" y2="181.30" stroke="#000" stroke-width="0.8"/>
<line x1="393.10" y1="19.40" x2="393.10" y2="181.90" stroke="#555" stroke-width="1.7"/>
<line x1="392.40" y1="181.40" x2="499.40" y2="181.40" stroke="#222" stroke-width="1.0"/>
<polyline points="396.80,173.00 402.67,168.00 408.53,162.00 414.39,159.00 420.26,151.25 426.12,142.50 431.99,135.60 437.86,123.00 443.72,111.00 449.59,98.10 455.45,76.40" fill="none" stroke="#000" stroke-width="0.35"/>
<polyline points="396.80,172.00 402.67,166.90 408.53,160.00 414.39,158.75 420.26,146.00 426.12,138.00 431.99,126.25 437.86,112.75 443.72,102.25 449.59,84.75 455.45,63.00" fill="none" stroke="#000" stroke-width="0.35"/>
<line x1="396.80" y1="171.00" x2="396.80" y2="175.00" stroke="#000" stroke-width="0.95"/>
<line x1="394.20" y1="171.00" x2="399.40" y2="171.00" stroke="#000" stroke-width="0.95"/>
<line x1="394.20" y1="175.00" x2="399.40" y2="175.00" stroke="#000" stroke-width="0.95"/>
<line x1="402.67" y1="166.00" x2="402.67" y2="170.00" stroke="#000" stroke-width="0.95"/>
<line x1="400.06" y1="166.00" x2="405.27" y2="166.00" stroke="#000" stroke-width="0.95"/>
<line x1="400.06" y1="170.00" x2="405.27" y2="170.00" stroke="#000" stroke-width="0.95"/>
<line x1="408.53" y1="159.00" x2="408.53" y2="165.00" stroke="#000" stroke-width="0.95"/>
<line x1="405.93" y1="159.00" x2="411.13" y2="159.00" stroke="#000" stroke-width="0.95"/>
<line x1="405.93" y1="165.00" x2="411.13" y2="165.00" stroke="#000" stroke-width="0.95"/>
<line x1="414.39" y1="156.00" x2="414.39" y2="162.00" stroke="#000" stroke-width="0.95"/>
<line x1="411.79" y1="156.00" x2="417.00" y2="156.00" stroke="#000" stroke-width="0.95"/>
<line x1="411.79" y1="162.00" x2="417.00" y2="162.00" stroke="#000" stroke-width="0.95"/>
<line x1="420.26" y1="146.85" x2="420.26" y2="155.65" stroke="#000" stroke-width="0.95"/>
<line x1="417.66" y1="146.85" x2="422.86" y2="146.85" stroke="#000" stroke-width="0.95"/>
<line x1="417.66" y1="155.65" x2="422.86" y2="155.65" stroke="#000" stroke-width="0.95"/>
<line x1="426.12" y1="137.25" x2="426.12" y2="147.75" stroke="#000" stroke-width="0.95"/>
<line x1="423.52" y1="137.25" x2="428.73" y2="137.25" stroke="#000" stroke-width="0.95"/>
<line x1="423.52" y1="147.75" x2="428.73" y2="147.75" stroke="#000" stroke-width="0.95"/>
<line x1="431.99" y1="130.60" x2="431.99" y2="140.60" stroke="#000" stroke-width="0.95"/>
<line x1="429.39" y1="130.60" x2="434.59" y2="130.60" stroke="#000" stroke-width="0.95"/>
<line x1="429.39" y1="140.60" x2="434.59" y2="140.60" stroke="#000" stroke-width="0.95"/>
<line x1="437.86" y1="117.00" x2="437.86" y2="129.00" stroke="#000" stroke-width="0.95"/>
<line x1="435.25" y1="117.00" x2="440.46" y2="117.00" stroke="#000" stroke-width="0.95"/>
<line x1="435.25" y1="129.00" x2="440.46" y2="129.00" stroke="#000" stroke-width="0.95"/>
<line x1="443.72" y1="103.50" x2="443.72" y2="118.50" stroke="#000" stroke-width="0.95"/>
<line x1="441.12" y1="103.50" x2="446.32" y2="103.50" stroke="#000" stroke-width="0.95"/>
<line x1="441.12" y1="118.50" x2="446.32" y2="118.50" stroke="#000" stroke-width="0.95"/>
<line x1="449.59" y1="89.60" x2="449.59" y2="106.60" stroke="#000" stroke-width="0.95"/>
<line x1="446.99" y1="89.60" x2="452.19" y2="89.60" stroke="#000" stroke-width="0.95"/>
<line x1="446.99" y1="106.60" x2="452.19" y2="106.60" stroke="#000" stroke-width="0.95"/>
<line x1="455.45" y1="64.40" x2="455.45" y2="88.40" stroke="#000" stroke-width="0.95"/>
<line x1="452.85" y1="64.40" x2="458.05" y2="64.40" stroke="#000" stroke-width="0.95"/>
<line x1="452.85" y1="88.40" x2="458.05" y2="88.40" stroke="#000" stroke-width="0.95"/>
<circle cx="396.80" cy="173.00" r="2.4" fill="#fff" stroke="#000" stroke-width="0.9"/>
<circle cx="402.67" cy="168.00" r="2.4" fill="#fff" stroke="#000" stroke-width="0.9"/>
<circle cx="408.53" cy="162.00" r="2.4" fill="#fff" stroke="#000" stroke-width="0.9"/>
<circle cx="414.39" cy="159.00" r="2.4" fill="#fff" stroke="#000" stroke-width="0.9"/>
<circle cx="420.26" cy="151.25" r="2.4" fill="#fff" stroke="#000" stroke-width="0.9"/>
<circle cx="426.12" cy="142.50" r="2.4" fill="#fff" stroke="#000" stroke-width="0.9"/>
<circle cx="431.99" cy="135.60" r="2.4" fill="#fff" stroke="#000" stroke-width="0.9"/>
<circle cx="437.86" cy="123.00" r="2.4" fill="#fff" stroke="#000" stroke-width="0.9"/>
<circle cx="443.72" cy="111.00" r="2.4" fill="#fff" stroke="#000" stroke-width="0.9"/>
<circle cx="449.59" cy="98.10" r="2.4" fill="#fff" stroke="#000" stroke-width="0.9"/>
<circle cx="455.45" cy="76.40" r="2.4" fill="#fff" stroke="#000" stroke-width="0.9"/>
<line x1="396.80" y1="170.60" x2="396.80" y2="175.40" stroke="#000" stroke-width="0.7"/>
<line x1="402.67" y1="165.60" x2="402.67" y2="170.40" stroke="#000" stroke-width="0.7"/>
<line x1="408.53" y1="159.60" x2="408.53" y2="164.40" stroke="#000" stroke-width="0.7"/>
<line x1="414.39" y1="156.60" x2="414.39" y2="161.40" stroke="#000" stroke-width="0.7"/>
<line x1="420.26" y1="148.85" x2="420.26" y2="153.65" stroke="#000" stroke-width="0.7"/>
<line x1="426.12" y1="140.10" x2="426.12" y2="144.90" stroke="#000" stroke-width="0.7"/>
<line x1="431.99" y1="133.20" x2="431.99" y2="138.00" stroke="#000" stroke-width="0.7"/>
<line x1="437.86" y1="120.60" x2="437.86" y2="125.40" stroke="#000" stroke-width="0.7"/>
<line x1="443.72" y1="108.60" x2="443.72" y2="113.40" stroke="#000" stroke-width="0.7"/>
<line x1="449.59" y1="95.70" x2="449.59" y2="100.50" stroke="#000" stroke-width="0.7"/>
<line x1="455.45" y1="74.00" x2="455.45" y2="78.80" stroke="#000" stroke-width="0.7"/>
<line x1="396.80" y1="170.00" x2="396.80" y2="174.00" stroke="#000" stroke-width="0.95"/>
<line x1="394.20" y1="170.00" x2="399.40" y2="170.00" stroke="#000" stroke-width="0.95"/>
<line x1="394.20" y1="174.00" x2="399.40" y2="174.00" stroke="#000" stroke-width="0.95"/>
<line x1="402.67" y1="163.90" x2="402.67" y2="169.90" stroke="#000" stroke-width="0.95"/>
<line x1="400.06" y1="163.90" x2="405.27" y2="163.90" stroke="#000" stroke-width="0.95"/>
<line x1="400.06" y1="169.90" x2="405.27" y2="169.90" stroke="#000" stroke-width="0.95"/>
<line x1="408.53" y1="156.00" x2="408.53" y2="164.00" stroke="#000" stroke-width="0.95"/>
<line x1="405.93" y1="156.00" x2="411.13" y2="156.00" stroke="#000" stroke-width="0.95"/>
<line x1="405.93" y1="164.00" x2="411.13" y2="164.00" stroke="#000" stroke-width="0.95"/>
<line x1="414.39" y1="154.45" x2="414.39" y2="163.05" stroke="#000" stroke-width="0.95"/>
<line x1="411.79" y1="154.45" x2="417.00" y2="154.45" stroke="#000" stroke-width="0.95"/>
<line x1="411.79" y1="163.05" x2="417.00" y2="163.05" stroke="#000" stroke-width="0.95"/>
<line x1="420.26" y1="136.00" x2="420.26" y2="156.00" stroke="#000" stroke-width="0.95"/>
<line x1="417.66" y1="136.00" x2="422.86" y2="136.00" stroke="#000" stroke-width="0.95"/>
<line x1="417.66" y1="156.00" x2="422.86" y2="156.00" stroke="#000" stroke-width="0.95"/>
<line x1="426.12" y1="128.00" x2="426.12" y2="148.00" stroke="#000" stroke-width="0.95"/>
<line x1="423.52" y1="128.00" x2="428.73" y2="128.00" stroke="#000" stroke-width="0.95"/>
<line x1="423.52" y1="148.00" x2="428.73" y2="148.00" stroke="#000" stroke-width="0.95"/>
<line x1="431.99" y1="112.25" x2="431.99" y2="140.25" stroke="#000" stroke-width="0.95"/>
<line x1="429.39" y1="112.25" x2="434.59" y2="112.25" stroke="#000" stroke-width="0.95"/>
<line x1="429.39" y1="140.25" x2="434.59" y2="140.25" stroke="#000" stroke-width="0.95"/>
<line x1="437.86" y1="96.00" x2="437.86" y2="129.50" stroke="#000" stroke-width="0.95"/>
<line x1="435.25" y1="96.00" x2="440.46" y2="96.00" stroke="#000" stroke-width="0.95"/>
<line x1="435.25" y1="129.50" x2="440.46" y2="129.50" stroke="#000" stroke-width="0.95"/>
<line x1="443.72" y1="82.25" x2="443.72" y2="122.25" stroke="#000" stroke-width="0.95"/>
<line x1="441.12" y1="82.25" x2="446.32" y2="82.25" stroke="#000" stroke-width="0.95"/>
<line x1="441.12" y1="122.25" x2="446.32" y2="122.25" stroke="#000" stroke-width="0.95"/>
<line x1="449.59" y1="60.75" x2="449.59" y2="108.75" stroke="#000" stroke-width="0.95"/>
<line x1="446.99" y1="60.75" x2="452.19" y2="60.75" stroke="#000" stroke-width="0.95"/>
<line x1="446.99" y1="108.75" x2="452.19" y2="108.75" stroke="#000" stroke-width="0.95"/>
<line x1="455.45" y1="35.00" x2="455.45" y2="91.00" stroke="#000" stroke-width="0.95"/>
<line x1="452.85" y1="35.00" x2="458.05" y2="35.00" stroke="#000" stroke-width="0.95"/>
<line x1="452.85" y1="91.00" x2="458.05" y2="91.00" stroke="#000" stroke-width="0.95"/>
<rect x="394.50" y="169.70" width="4.6" height="4.6" fill="#000"/>
<rect x="400.37" y="164.60" width="4.6" height="4.6" fill="#000"/>
<rect x="406.23" y="157.70" width="4.6" height="4.6" fill="#000"/>
<rect x="412.09" y="156.45" width="4.6" height="4.6" fill="#000"/>
<rect x="417.96" y="143.70" width="4.6" height="4.6" fill="#000"/>
<rect x="423.82" y="135.70" width="4.6" height="4.6" fill="#000"/>
<rect x="429.69" y="123.95" width="4.6" height="4.6" fill="#000"/>
<rect x="435.56" y="110.45" width="4.6" height="4.6" fill="#000"/>
<rect x="441.42" y="99.95" width="4.6" height="4.6" fill="#000"/>
<rect x="447.29" y="82.45" width="4.6" height="4.6" fill="#000"/>
<rect x="453.15" y="60.70" width="4.6" height="4.6" fill="#000"/>
<line x1="377.05" y1="214.25" x2="385.45" y2="214.25" stroke="#333" stroke-width="0.45"/>
<rect x="378.85" y="211.85" width="4.8" height="4.8" fill="#000"/>
<text x="390.5" y="216.8" font-size="8.7" text-anchor="start" textLength="108.0" lengthAdjust="spacingAndGlyphs" stroke="#000" stroke-width="0.2">Anti-FITC CAR T cell + PBS</text>
<line x1="377.05" y1="224.25" x2="385.45" y2="224.25" stroke="#333" stroke-width="0.45"/>
<rect x="379.05" y="222.05" width="4.4" height="4.4" fill="#fff" stroke="#000" stroke-width="0.9"/>
<line x1="377.05" y1="224.25" x2="385.45" y2="224.25" stroke="#333" stroke-width="0.5"/>
<text x="390.5" y="227.1" font-size="8.7" text-anchor="start" textLength="129.9" lengthAdjust="spacingAndGlyphs" stroke="#000" stroke-width="0.2">Anti-FITC CAR T cell + FITC-AZA</text>
<line x1="377.30" y1="235.90" x2="385.70" y2="235.90" stroke="#333" stroke-width="0.45"/>
<circle cx="381.50" cy="235.90" r="2.2" fill="#fff" stroke="#000" stroke-width="1.0"/>
<text x="391.15" y="238.4" font-size="8.7" text-anchor="start" textLength="126.1" lengthAdjust="spacingAndGlyphs" stroke="#000" stroke-width="0.2">FITC-AZA alone (No CAR T cell)</text>
</svg>
</body></html>
